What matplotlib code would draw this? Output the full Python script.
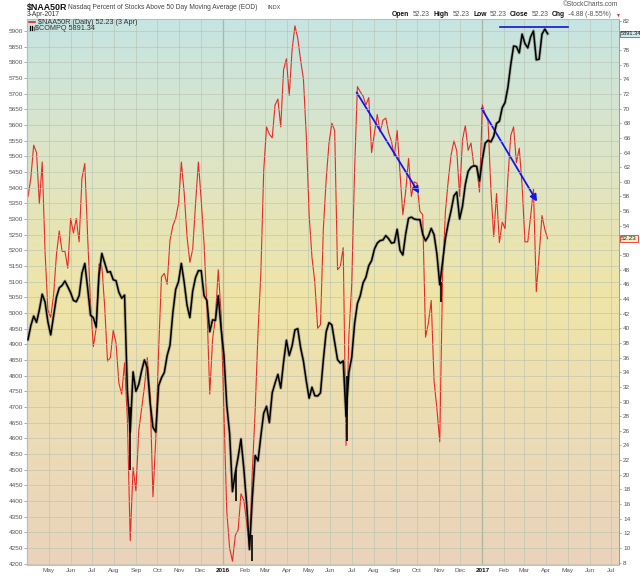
import numpy as np
import pandas as pd
import matplotlib
matplotlib.use('Agg')
import matplotlib.pyplot as plt
import matplotlib.dates as mdates
from matplotlib.colors import LinearSegmentedColormap
from matplotlib.lines import Line2D

# ---------------- data ----------------
dates = pd.date_range('2015-04-02', '2017-04-03', freq='4D')

naa50r = [58, 60.5, 65, 64, 57, 62.7, 50.5, 42.5, 41.5, 44.5,
          50, 53.3, 50.5, 50.5, 48.2, 55, 53, 55, 51.8, 60.5,
          62.5, 52.5, 43.5, 37.5, 40, 48.8, 48.5, 43, 35.5, 36,
          39.7, 38, 32.5, 31, 35.3, 27.5, 11, 21, 17.8, 26,
          29, 32, 36, 31, 17, 25, 37, 47, 47.5, 46,
          52, 54, 55, 57, 62.7, 58.5, 52.5, 49, 50.8, 57,
          62.7, 57.5, 51.5, 43, 31, 38.5, 41.5, 48, 42, 28.3,
          15, 10, 8.2, 11.7, 12.5, 17.4, 16.5, 13.5, 10, 20.5,
          28.8, 39.5, 47.5, 61.5, 67.5, 66.5, 66, 70.5, 71.3, 67.5,
          75.3, 76.8, 71.8, 78, 81.3, 79.6, 76.6, 74, 66.3, 55.5,
          49.7, 46.3, 40, 40.5, 53.5, 60.3, 65.3, 68, 67, 48,
          48.5, 51, 24, 39, 46, 61.5, 73, 72.3, 71.7, 70.5,
          71.5, 64, 66.7, 69.2, 66.8, 68.4, 68.7, 66.7, 65.5, 63.5,
          67, 61.3, 55.5, 58.7, 63.2, 58, 60, 59.8, 56, 55.5,
          38.8, 40.7, 43.8, 32.8, 29, 24.5, 47.2, 56, 60.2, 63.7,
          65.6, 64.2, 58, 65.7, 67.7, 64.3, 65.3, 62.2, 62, 58.6,
          70.5, 69.2, 68.3, 59, 52.5, 58.4, 51.7, 54.5, 53.6, 60.5,
          66.3, 67.5, 62.6, 64.6, 59.5, 51.8, 51.8, 55.3, 59, 45,
          50, 55.4, 53.5, 52.23]

compq = [4915, 4960, 4990, 4970, 5010, 5060, 5035, 4972, 4930, 4990,
         5050, 5080, 5088, 5102, 5084, 5065, 5040, 5036, 5055, 5127,
         5158, 5080, 4993, 4985, 4955, 5120, 5190, 5160, 5130, 5132,
         5106, 5103, 5066, 5047, 5057, 4750, 4620, 4812, 4750, 4772,
         4815, 4850, 4825, 4715, 4635, 4620, 4768, 4793, 4810, 4864,
         4897, 5000, 5075, 5100, 5158, 5098, 5025, 4985, 5070, 5113,
         5135, 5135, 5055, 5040, 4940, 4978, 4976, 5055, 4950, 4865,
         4706, 4615, 4430, 4490, 4540, 4598, 4503, 4390, 4245, 4410,
         4545, 4528, 4607, 4680, 4702, 4650, 4745, 4776, 4804, 4760,
         4843, 4913, 4864, 4895, 4946, 4950, 4889, 4846, 4783, 4728,
         4763, 4736, 4735, 4745, 4850, 4940, 4969, 4962, 4907, 4851,
         4840, 4847, 4670, 4810, 4858, 4965, 5030, 5055, 5096, 5114,
         5151, 5167, 5204, 5223, 5231, 5233, 5247, 5237, 5223, 5225,
         5267, 5200, 5185, 5252, 5302, 5306, 5300, 5298, 5298, 5251,
         5230, 5245, 5270, 5250, 5188, 5090, 5165, 5238, 5287, 5327,
         5374, 5386, 5300, 5340, 5410, 5452, 5465, 5470, 5468, 5421,
         5490, 5542, 5551, 5546, 5564, 5605, 5612, 5655, 5672, 5720,
         5792, 5852, 5850, 5830, 5890, 5860, 5846, 5881, 5900, 5808,
         5810, 5890, 5906, 5891.34]

spike_dates = ['2015-08-24', '2016-01-20', '2016-02-11', '2016-06-24', '2016-11-04']
spike_low = [4500, 4400, 4209, 4590, 5034]
spike_high = [4700, 4500, 4290, 4800, 5100]

arrow_start_dates = ['2016-07-08', '2016-12-31']
arrow_end_dates = ['2016-10-04', '2017-03-19']
arrow_start_pct = [72.2, 70.0]
arrow_end_pct = [58.4, 57.3]

resist_dates = ['2017-01-26', '2017-05-01']
resist_level = 5913

price_ticks = list(range(4200, 5901, 50))
pct_ticks = list(range(8, 83, 2))
month_ticks = pd.date_range('2015-05-01', '2017-07-01', freq='MS')
last_price = 5891.34
last_pct = 52.23

# ---------------- figure ----------------
plt.rcParams['font.family'] = ['Liberation Sans', 'DejaVu Sans']
W, H = 640, 576
fig = plt.figure(figsize=(W / 100, H / 100), dpi=100)
fig.patch.set_facecolor('white')
L, R, T, B = 27, 619, 19, 565
ax = fig.add_axes([L / W, 1 - B / H, (R - L) / W, (B - T) / H])

# gradient background
cmap = LinearSegmentedColormap.from_list('bg', [
    (0.0, '#ead3bb'), (0.22, '#ecdbb6'), (0.5, '#efe5a8'), (0.75, '#dde4c6'), (1.0, '#c6e5e2')])
grad = np.linspace(0, 1, 256).reshape(-1, 1)
ax.imshow(grad, extent=[0, 1, 0, 1], transform=ax.transAxes, aspect='auto',
          cmap=cmap, origin='lower', zorder=0)

x0 = pd.Timestamp('2015-03-31 14:00')
x1 = pd.Timestamp('2017-07-12 12:00')
ax.set_xlim(x0, x1)
ax.set_ylim(7.68, 82.23)

ax2 = ax.twinx()
ax2.set_xlim(x0, x1)
ax2.set_ylim(4195.6, 5938.3)

# grid
ax.set_xticks(month_ticks)
ax.grid(axis='x', color='#b8c2b0', lw=0.6, alpha=0.7, zorder=1)
for yr in ['2016-01-01', '2017-01-01']:
    ax.axvline(pd.Timestamp(yr), color='#9ea88f', lw=0.9, zorder=1)
ax2.set_yticks(price_ticks)
ax2.grid(axis='y', color='#b8c2b0', lw=0.6, alpha=0.7)
ax2.set_axisbelow(True)

# red percent line
ax.plot(dates, naa50r, color='#e8201e', lw=0.8, zorder=3, alpha=0.95)

# black price line
ax2.plot(dates, compq, color='#5a5a50', lw=2.3, alpha=0.4, zorder=3)
ax2.plot(dates, compq, color='black', lw=1.1, zorder=4)
ax2.vlines(pd.to_datetime(spike_dates), spike_low, spike_high, color='black', lw=1.2, zorder=4)

# resistance line
ax2.plot(pd.to_datetime(resist_dates), [resist_level, resist_level], color='#1414d8', lw=1.2, zorder=5)

# arrows
for sd, ed, sp, ep in zip(arrow_start_dates, arrow_end_dates, arrow_start_pct, arrow_end_pct):
    ax.annotate('', xy=(pd.Timestamp(ed), ep), xytext=(pd.Timestamp(sd), sp),
                arrowprops=dict(arrowstyle='-|>', color='#1414f0', lw=1.3,
                                mutation_scale=10, shrinkA=0, shrinkB=0), zorder=6)

# axes styling
for a in (ax, ax2):
    for s in a.spines.values():
        s.set_visible(False)
ax2.spines['left'].set_visible(True)
ax2.spines['left'].set_color('#a9c3cc')
ax2.spines['left'].set_linewidth(0.9)
ax2.spines['top'].set_visible(True)
ax2.spines['top'].set_color('#a9c3cc')
ax2.spines['bottom'].set_visible(True)
ax2.spines['bottom'].set_color('#b9c6cc')
ax2.spines['right'].set_visible(True)
ax2.spines['right'].set_color('#8fa0a8')
ax2.spines['right'].set_linestyle((0, (1, 1)))
ax2.spines['right'].set_linewidth(0.7)

ax.yaxis.tick_right()
ax.set_yticks(pct_ticks)
# tick labels hidden behind the last-value boxes in the reference
pct_labels = ['' if v in (52, 80) else str(v) for v in pct_ticks]
ax.set_yticklabels(pct_labels)
ax.tick_params(axis='y', which='both', right=True, left=False, length=1.5, width=0.5,
               color='#8a8a8a', labelsize=4.6, labelcolor='#555555', pad=1.5)
ax2.yaxis.tick_left()
ax2.set_yticklabels([str(v) for v in price_ticks])
ax2.tick_params(axis='y', length=2, width=0.5, color='#8a8a8a', labelsize=4.6,
                labelcolor='#555555', pad=1)
ax2.tick_params(axis='x', length=0, labelbottom=False)

labels = []
for d in month_ticks:
    labels.append(str(d.year) if d.month == 1 else d.strftime('%b'))
ax.set_xticklabels(labels)
ax.tick_params(axis='x', length=0, labelsize=4.6, labelcolor='#555555', pad=2)
for lab, d in zip(ax.get_xticklabels(), month_ticks):
    if d.month == 1:
        lab.set_fontweight('bold')
        lab.set_color('#111111')

# right-edge value labels
ax2.annotate(f'{last_price:.2f}', xy=(1, last_price), xycoords=('axes fraction', 'data'),
             xytext=(1.0, 0), textcoords='offset points', fontsize=4.1, color='#111111',
             va='center', ha='left', annotation_clip=False,
             bbox=dict(boxstyle='square,pad=0.1', fc='#cdeaf0', ec='#555555', lw=0.5))
ax.annotate(f'{last_pct:.2f}', xy=(1, last_pct), xycoords=('axes fraction', 'data'),
            xytext=(1.5, 0), textcoords='offset points', fontsize=4.5, color='#222222',
            va='center', ha='left', annotation_clip=False,
            bbox=dict(boxstyle='square,pad=0.12', fc='#f3ecc8', ec='#e83030', lw=0.6))

# header texts
def fx(px):
    return px / W

def fy(py):
    return 1 - py / H

fig.text(fx(27), fy(7.5), '$NAA50R', fontsize=6.4, fontweight='bold', color='#111111', va='center')
fig.text(fx(68), fy(7.5), 'Nasdaq Percent of Stocks Above 50 Day Moving Average (EOD)',
         fontsize=4.8, color='#444444', va='center')
fig.text(fx(268), fy(7.5), 'INDX', fontsize=4.0, color='#444444', va='center')
fig.text(fx(27), fy(14.5), '3-Apr-2017', fontsize=4.8, color='#333333', va='center')
fig.text(fx(618), fy(5), '\u00a9StockCharts.com', fontsize=4.8, color='#555555',
         va='center', ha='right')

hdr = [(392, 'Open', True), (413, '52.23', False), (434, 'High', True), (453, '52.23', False),
       (473, 'Low', True), (490, '52.23', False), (510, 'Close', True), (532, '52.23', False),
       (552, 'Chg', True), (568, '-4.88 (-8.55%)', False)]
for px, txt, bold in hdr:
    fig.text(fx(px), fy(15), txt, fontsize=4.9, va='center',
             fontweight='bold' if bold else 'normal', color='#111111' if bold else '#555555')
fig.text(fx(615.5), fy(15.5), '\u25bc', fontsize=3.5, color='#e02020', va='center')

# in-plot legend
fig.add_artist(Line2D([fx(29), fx(35)], [fy(22), fy(22)], color='#e8201e', lw=1.2))
fig.text(fx(38), fy(22), '$NAA50R (Daily) 52.23 (3 Apr)', fontsize=5.2, color='#333333', va='center')
fig.add_artist(Line2D([fx(30), fx(30)], [fy(26), fy(30)], color='black', lw=0.9))
fig.add_artist(Line2D([fx(32), fx(32)], [fy(25.5), fy(29.5)], color='black', lw=0.9))
fig.add_artist(Line2D([fx(34), fx(34)], [fy(26.5), fy(30)], color='#666666', lw=0.9))
fig.text(fx(35), fy(28), '$COMPQ 5891.34', fontsize=5.2, color='#333333', va='center')

fig.savefig('out.png', dpi=100)
